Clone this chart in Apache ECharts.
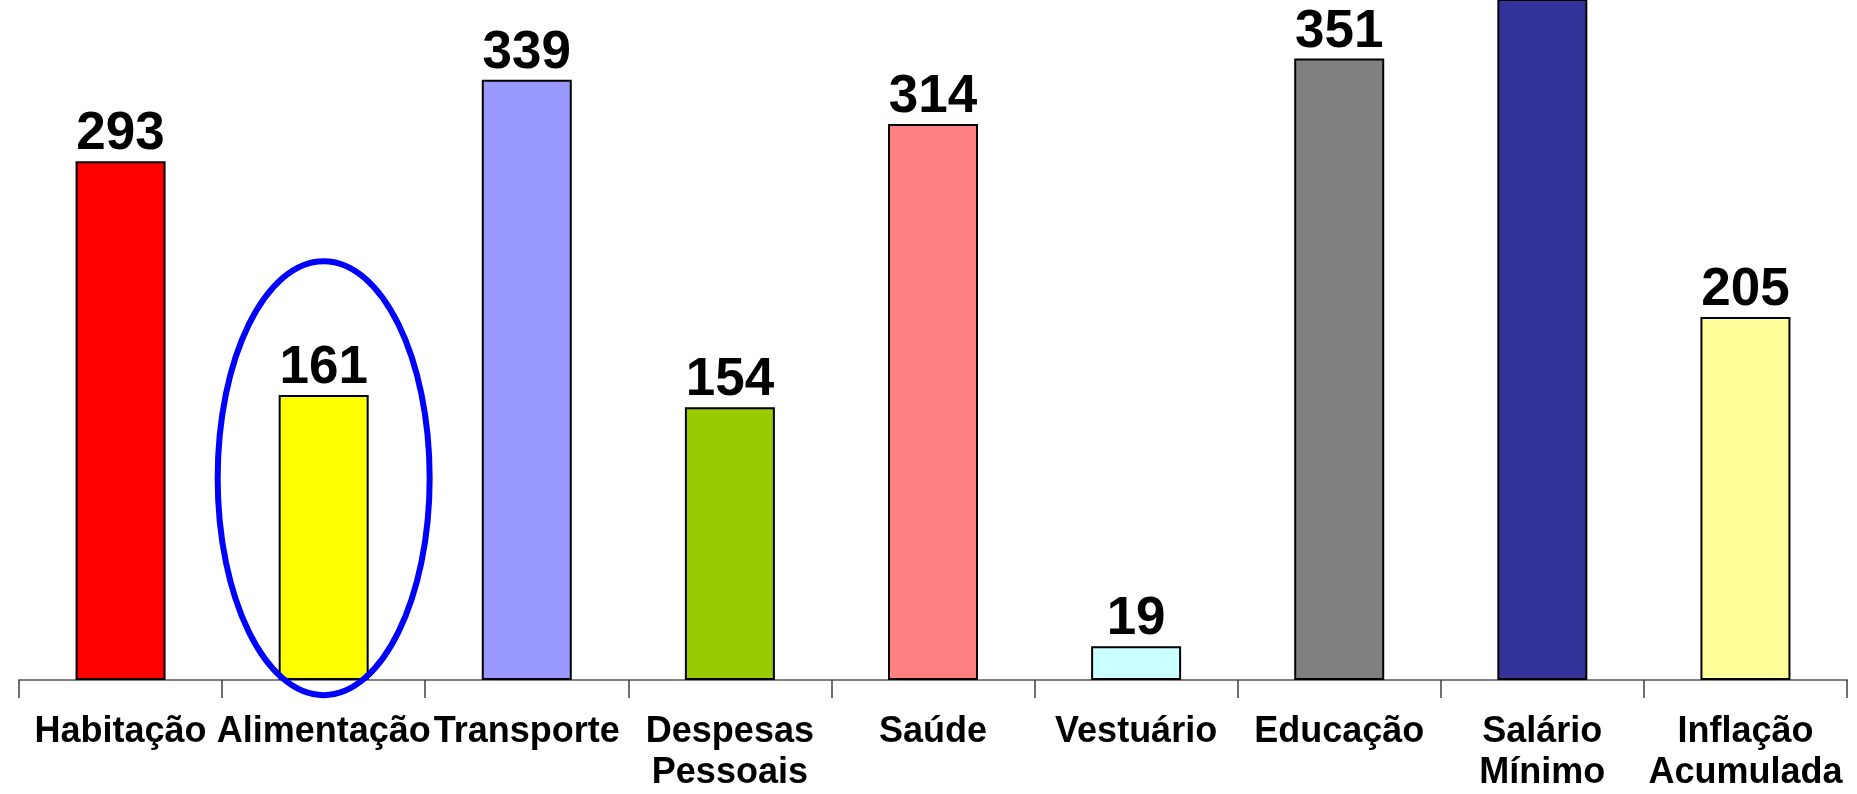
<!DOCTYPE html>
<html>
<head>
<meta charset="utf-8">
<title>Variação de preços</title>
<script src="https://cdn.jsdelivr.net/npm/echarts@6/dist/echarts.min.js"></script>
<style>
html, body { margin: 0; padding: 0; background: #fff; }
#chart { width: 1857px; height: 794px; }
</style>
</head>
<body>
<div id="chart"></div>
<script>
// dados
var categorias = ['Habitação', 'Alimentação', 'Transporte', 'Despesas\nPessoais', 'Saúde', 'Vestuário', 'Educação', 'Salário\nMínimo', 'Inflação\nAcumulada'];
var valores = [293, 161, 339, 154, 314, 19, 351, 440, 205];
var cores = ['#ff0000', '#ffff00', '#9999ff', '#99cc00', '#ff8080', '#ccffff', '#808080', '#333399', '#ffff99'];
// a barra do salário mínimo passa do topo, o rótulo fica fora
var semRotulo = ['Salário\nMínimo'];
// categoria marcada com a elipse azul
var destaque = 'Alimentação';

var fonte = "'Liberation Sans', Arial, sans-serif";

var dados = [];
for (var i = 0; i < valores.length; i++) {
    dados.push({
        value: valores[i],
        itemStyle: { color: cores[i] },
        label: { show: semRotulo.indexOf(categorias[i]) < 0 }
    });
}

var option = {
    animation: false,
    backgroundColor: '#fff',
    grid: { left: 19, right: 10, top: 0, bottom: 113 },
    xAxis: {
        type: 'category',
        data: categorias,
        boundaryGap: true,
        axisLine: { show: true, lineStyle: { color: '#808080', width: 2 } },
        axisTick: { show: true, interval: 0, length: 18, lineStyle: { color: '#404040', width: 1.5 } },
        axisLabel: {
            interval: 0,
            margin: 32,
            color: '#000',
            fontFamily: fonte,
            fontWeight: 'bold',
            fontSize: 36,
            lineHeight: 41
        }
    },
    yAxis: {
        type: 'value',
        min: 0,
        max: 384,
        axisLine: { show: false },
        axisTick: { show: false },
        axisLabel: { show: false },
        splitLine: { show: false }
    },
    series: [{
        type: 'bar',
        data: dados,
        barWidth: 90,
        clip: true,
        itemStyle: { borderColor: '#000', borderWidth: 2 },
        label: {
            position: 'top',
            distance: 0,
            color: '#000',
            fontFamily: fonte,
            fontWeight: 'bold',
            fontSize: 53,
            lineHeight: 53
        }
    }]
};

var myChart = echarts.init(document.getElementById('chart'), null, { renderer: 'canvas' });
myChart.setOption(option);

// elipse em volta da alimentação
var centro = myChart.convertToPixel({ gridIndex: 0 }, [destaque, 114]);
myChart.setOption({
    graphic: [{
        type: 'ellipse',
        z: 100,
        shape: { cx: centro[0], cy: centro[1], rx: 106, ry: 217 },
        style: { fill: 'none', stroke: '#0000ff', lineWidth: 6 }
    }]
});
</script>
</body>
</html>
